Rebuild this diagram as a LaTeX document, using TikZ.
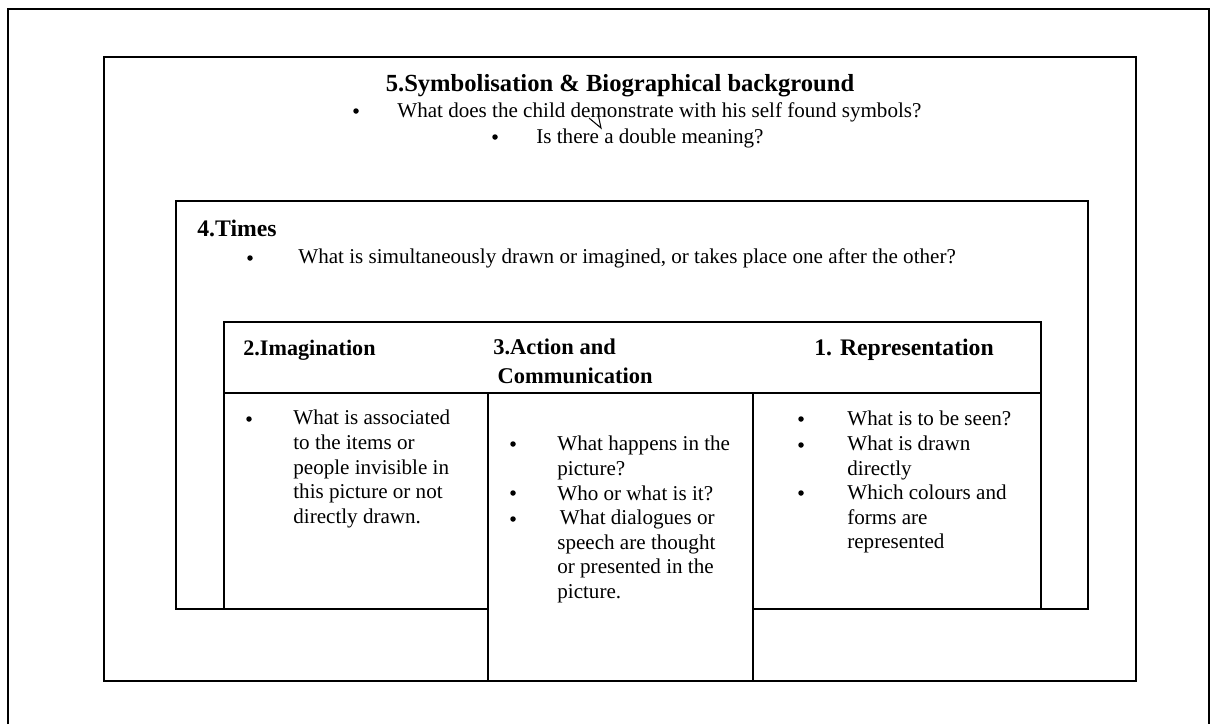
\documentclass[tikz,border=0pt]{standalone}
\usepackage{fontspec}
\setmainfont{Liberation Serif}
\tikzset{
    every node/.style={inner sep=0pt}
}
\tikzset{
    box/.style={draw, line width=1.1pt},
    body/.style={font=\fontsize{12}{14}\selectfont, align=left,
    	anchor=north west, execute at begin node=\strut},
    head/.style={font=\fontsize{13.5}{16.5}\selectfont\bfseries, align=left,
    	anchor=north west, execute at begin node=\strut},
    dot/.style={circle, fill, minimum size=0.11cm}
}

\begin{document}
\begin{tikzpicture}[x=0.02cm, y=-0.02cm]
	\useasboundingbox (0,0) rectangle (1211,724);
	\draw[box] (8,724) -- (8,9) -- (1209,9) -- (1209,724);
	\draw[box] (104,57) rectangle (1136,681);
	\draw[box] (176,201) rectangle (1088,609);
	\draw[box] (224,322) rectangle (1041,393);
	\draw[box] (224,393) rectangle (488,609);
	\draw[box, fill=white] (488,393) rectangle (753,681);
	\draw[box] (753,393) rectangle (1041,609);

	\node (symb) [head, font=\fontsize{14}{16.5}\selectfont\bfseries, anchor=north] at (620,71) {5.Symbolisation \& Biographical background};
	\node (symbd1) [dot] at (356,111) {};
	\node (symbq1) [body] at (397,100) {What does the child demonstrate with his self found symbols?};
	\node (symbd2) [dot] at (495,137) {};
	\node (symbq2) [body] at (536,126) {Is there a double meaning?};
	\draw[line width=0.6pt] (589,118) -- (601,128) -- (598,114);

	\node (times) [head] at (197,216) {4.Times};
	\node (timesd) [dot] at (250,258) {};
	\node (timesq) [body] at (298,246) {What is simultaneously drawn or imagined, or takes place one after the other?};

	\node (imag) [head, font=\fontsize{12.6}{16.5}\selectfont\bfseries] at (243,335) {2.Imagination};
	\node (act) [head, font=\fontsize{12.8}{16.5}\selectfont\bfseries] at (493,339) {3.Action and\\\hspace*{2.5pt}Communication};
	\node (rep) [head] at (814,335) {1. Representation};

	\node (imagd) [dot] at (249,419) {};
	\node (imagq) [body] at (293,410) {What is associated\\to the items or\\people invisible in\\this picture or not\\directly drawn.};

	\node (actd1) [dot] at (513,444) {};
	\node (actd2) [dot] at (513,493) {};
	\node (actd3) [dot] at (513,519) {};
	\node (actq) [body] at (557,436) {What happens in the\\picture?\\Who or what is it?\\\hspace*{1.5pt}What dialogues or\\speech are thought\\or presented in the\\picture.};

	\node (repd1) [dot] at (801,419) {};
	\node (repd2) [dot] at (801,445) {};
	\node (repd3) [dot] at (801,493) {};
	\node (repq) [body] at (847,411) {What is to be seen?\\What is drawn\\directly\\Which colours and\\forms are\\represented};
\end{tikzpicture}
\end{document}
